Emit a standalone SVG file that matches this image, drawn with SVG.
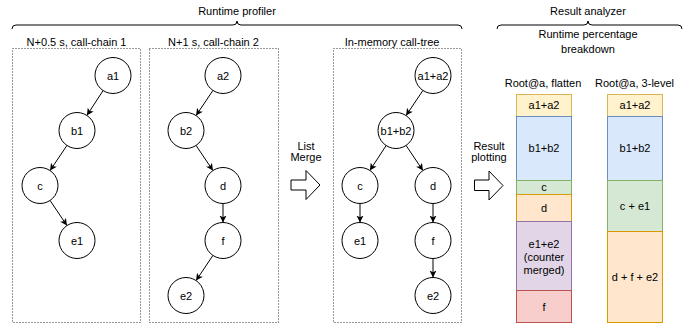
<svg xmlns="http://www.w3.org/2000/svg" width="696" height="328" viewBox="0 0 696 328">
<style>
text{font-family:"Liberation Sans",Arial,sans-serif;font-size:11px;fill:#000;text-anchor:middle}
.box{fill:none;stroke:#333;stroke-width:1;stroke-dasharray:1 2}
.n circle{fill:#fff;stroke:#000;stroke-width:1}
.e line{stroke:#000;stroke-width:1;marker-end:url(#ah)}
.brace{fill:none;stroke:#000;stroke-width:1}
.blk{fill:#fff;stroke:#000;stroke-width:1}
</style>
<defs>
<marker id="ah" markerUnits="userSpaceOnUse" markerWidth="8" markerHeight="8" refX="7" refY="3.5" orient="auto">
<path d="M0,0 L7,3.5 L0,7 L1.8,3.5 Z" fill="#000"/>
</marker>
</defs>
<rect width="696" height="328" fill="#fff"/>

<g id="headers">
<text x="237" y="15">Runtime profiler</text>
<path class="brace" d="M12,29 Q12,25 16,25 L233,25 Q237,25 237,21 Q237,25 241,25 L458,25 Q462,25 462,29"/>
<text x="588" y="15">Result analyzer</text>
<path class="brace" d="M497,29 Q497,25 501,25 L584,25 Q588,25 588,21 Q588,25 592,25 L678,25 Q682,25 682,29"/>
<text x="588" y="38">Runtime percentage</text>
<text x="588" y="53">breakdown</text>
</g>

<g id="box1">
<text x="76.5" y="45.5">N+0.5 s, call-chain 1</text>
<rect class="box" x="12.5" y="48.5" width="128" height="274"/>
</g>
<g id="box2">
<text x="213.5" y="45.5">N+1 s, call-chain 2</text>
<rect class="box" x="149.5" y="48.5" width="129" height="274"/>
</g>
<g id="box3">
<text x="392" y="45.5">In-memory call-tree</text>
<rect class="box" x="333.5" y="48.5" width="128" height="274"/>
</g>

<g id="connectors" class="e">
<line x1="103.14" y1="90.56" x2="86.86" y2="115.44"/>
<line x1="66.95" y1="145.43" x2="50.05" y2="170.57"/>
<line x1="50.05" y1="200.43" x2="66.95" y2="225.57"/>
<line x1="212.95" y1="90.43" x2="196.05" y2="115.57"/>
<line x1="196.05" y1="145.43" x2="212.95" y2="170.57"/>
<line x1="223" y1="203.5" x2="223" y2="222.5"/>
<line x1="212.95" y1="255.43" x2="196.05" y2="280.57"/>
<line x1="422.95" y1="90.43" x2="406.05" y2="115.57"/>
<line x1="386.14" y1="145.56" x2="369.86" y2="170.44"/>
<line x1="406.05" y1="145.43" x2="422.95" y2="170.57"/>
<line x1="360" y1="203.5" x2="360" y2="222.5"/>
<line x1="433" y1="203.5" x2="433" y2="222.5"/>
<line x1="433" y1="258.5" x2="433" y2="277.5"/>
</g>

<g id="n-a1" class="n"><circle cx="113" cy="75.5" r="18"/><text x="113" y="79.5">a1</text></g>
<g id="n-b1" class="n"><circle cx="77" cy="130.5" r="18"/><text x="77" y="134.5">b1</text></g>
<g id="n-c1" class="n"><circle cx="40" cy="185.5" r="18"/><text x="40" y="189.5">c</text></g>
<g id="n-e1" class="n"><circle cx="77" cy="240.5" r="18"/><text x="77" y="244.5">e1</text></g>

<g id="n-a2" class="n"><circle cx="223" cy="75.5" r="18"/><text x="223" y="79.5">a2</text></g>
<g id="n-b2" class="n"><circle cx="186" cy="130.5" r="18"/><text x="186" y="134.5">b2</text></g>
<g id="n-d2" class="n"><circle cx="223" cy="185.5" r="18"/><text x="223" y="189.5">d</text></g>
<g id="n-f2" class="n"><circle cx="223" cy="240.5" r="18"/><text x="223" y="244.5">f</text></g>
<g id="n-e2" class="n"><circle cx="186" cy="295.5" r="18"/><text x="186" y="299.5">e2</text></g>

<g id="n-a12" class="n"><circle cx="433" cy="75.5" r="18"/><text x="433" y="79.5">a1+a2</text></g>
<g id="n-b12" class="n"><circle cx="396" cy="130.5" r="18"/><text x="396" y="134.5">b1+b2</text></g>
<g id="n-c3" class="n"><circle cx="360" cy="185.5" r="18"/><text x="360" y="189.5">c</text></g>
<g id="n-d3" class="n"><circle cx="433" cy="185.5" r="18"/><text x="433" y="189.5">d</text></g>
<g id="n-e13" class="n"><circle cx="360" cy="240.5" r="18"/><text x="360" y="244.5">e1</text></g>
<g id="n-f3" class="n"><circle cx="433" cy="240.5" r="18"/><text x="433" y="244.5">f</text></g>
<g id="n-e23" class="n"><circle cx="433" cy="295.5" r="18"/><text x="433" y="299.5">e2</text></g>

<g id="list-merge">
<text x="306" y="149.5">List</text>
<text x="306" y="161">Merge</text>
<path class="blk" d="M291,180 L306,180 L306,170.5 L320,185 L306,199.5 L306,190 L291,190 Z"/>
</g>
<g id="result-plotting">
<text x="489" y="149.5">Result</text>
<text x="489" y="161">plotting</text>
<path class="blk" d="M474.5,180 L489,180 L489,171 L503,185.5 L489,200 L489,190.5 L474.5,190.5 Z"/>
</g>

<g id="bar-flatten">
<text x="543" y="87">Root@a, flatten</text>
<rect x="516.5" y="94.5" width="55" height="22" fill="#fff2cc" stroke="#d6b656"/>
<text x="544" y="109">a1+a2</text>
<rect x="516.5" y="116.5" width="55" height="64" fill="#dae8fc" stroke="#6c8ebf"/>
<text x="544" y="152">b1+b2</text>
<rect x="516.5" y="180.5" width="55" height="14" fill="#d5e8d4" stroke="#82b366"/>
<text x="544" y="191">c</text>
<rect x="516.5" y="194.5" width="55" height="27" fill="#ffe6cc" stroke="#d79b00"/>
<text x="544" y="212">d</text>
<rect x="516.5" y="221.5" width="55" height="69" fill="#e1d5e7" stroke="#9673a6"/>
<text x="544" y="247.5">e1+e2</text>
<text x="544" y="260.5">(counter</text>
<text x="544" y="273.5">merged)</text>
<rect x="516.5" y="290.5" width="55" height="32" fill="#f8cecc" stroke="#b85450"/>
<text x="544" y="310.5">f</text>
</g>

<g id="bar-3level">
<text x="634.5" y="87">Root@a, 3-level</text>
<rect x="607.5" y="94.5" width="55" height="22" fill="#fff2cc" stroke="#d6b656"/>
<text x="635" y="109">a1+a2</text>
<rect x="607.5" y="116.5" width="55" height="64" fill="#dae8fc" stroke="#6c8ebf"/>
<text x="635" y="152">b1+b2</text>
<rect x="607.5" y="180.5" width="55" height="51" fill="#d5e8d4" stroke="#82b366"/>
<text x="635" y="210">c + e1</text>
<rect x="607.5" y="231.5" width="55" height="91" fill="#ffe6cc" stroke="#d79b00"/>
<text x="635" y="281">d + f + e2</text>
</g>
</svg>
